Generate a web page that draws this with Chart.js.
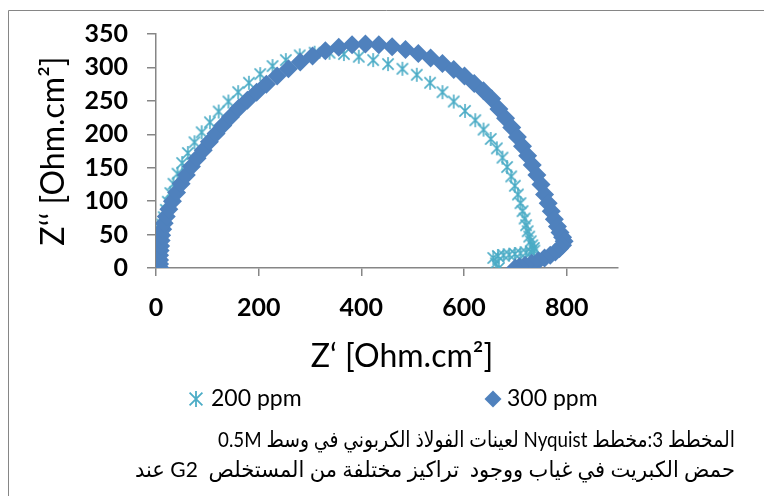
<!DOCTYPE html>
<html>
<head>
<meta charset="utf-8">
<script src="https://cdn.jsdelivr.net/npm/chart.js@4.4.0/dist/chart.umd.min.js"></script>
<style>
  html, body { margin: 0; padding: 0; background: #fff; }
</style>
</head>
<body>
<canvas id="nyquist" width="764" height="496"></canvas>
<script>
// Z' / Z'' readings (Ohm.cm2), high frequency first
var re200 = [4,4,5,5,6,7,8,10,12,15, 19,23,28,34,42,51,62,75,89,105,
  122,141,160,181,203,227,253,280,309,338, 366,395,423,452,480,508,534,558,580,602,
  622,638,652,664,675,684,692,699,705,710, 714,718,721,724,727,730,733,736,737,731,
  721,710,699,688,677,666,657,662,668];
var im200 = [0,7,14,21,29,37,46,55,65,76, 87,99,112,126,141,157,172,188,203,218,
  234,249,263,277,290,302,311,318,322,322, 320,316,311,305,298,289,277,263,249,235,
  221,207,193,179,165,151,137,123,110,97, 85,74,64,55,47,40,34,30,26,24,
  23,22,21,20,19,18,15,7,0];

var re300 = [8,7,7,7,8,9,10,11,13,16, 20,25,32,40,49,59,69,80,92,104,
  117,130,145,161,178,196,215,236,258,281, 305,330,356,382,408,434,460,486,511,535,
  558,580,601,620,638,654,668,681,693,704, 714,724,733,742,750,757,764,770,776,782,
  787,792,795,792,786,778,768,757,745,732, 719,708,700];
var im300 = [0,6,12,19,26,33,41,49,58,67, 77,88,100,113,126,139,152,164,176,189,
  201,213,226,239,251,263,275,287,298,308, 317,325,330,334,335,334,331,327,321,314,
  306,297,287,276,265,253,238,224,210,196, 182,168,154,139,125,110,97,85,73,62,
  53,46,40,34,29,24,19,15,11,7, 4,2,0];

var seriesNames = ['200 ppm', '300 ppm'];
var xTitle = 'Z\u2018 [Ohm.cm\u00B2]';
var yTitle = 'Z\u2018\u2018 [Ohm.cm\u00B2]';
var captionLines = [
  'المخطط 3:مخطط Nyquist لعينات الفولاذ الكربوني في وسط 0.5M',
  'حمض الكبريت في غياب ووجود  تراكيز مختلفة من المستخلص  G2 عند'
];

var AQUA = '#4BACC6', BLUE = '#4F81BD', AXIS = '#868686';

function toPoints(xs, ys) {
  return xs.map(function (x, i) { return {x: x, y: ys[i]}; });
}

// excel style "*" marker: an X with a vertical stroke
function makeAsterisk(size, color, lw) {
  var c = document.createElement('canvas');
  c.width = size; c.height = size;
  var g = c.getContext('2d');
  var m = size / 2, r = size / 2 - 1, d = r * 0.8;
  g.strokeStyle = color;
  g.lineWidth = lw;
  g.beginPath();
  g.moveTo(m - d, m - d); g.lineTo(m + d, m + d);
  g.moveTo(m + d, m - d); g.lineTo(m - d, m + d);
  g.moveTo(m, m - r); g.lineTo(m, m + r);
  g.stroke();
  return c;
}

var starPlot = makeAsterisk(16, AQUA, 1.6);
var starLegend = makeAsterisk(18, AQUA, 1.8);

// frame, x title, legend row and caption under the plot
var extras = {
  id: 'extras',
  beforeDraw: function (chart) {
    var ctx = chart.ctx;
    ctx.save();
    ctx.fillStyle = '#fff';
    ctx.fillRect(0, 0, chart.width, chart.height);
    ctx.restore();
  },
  afterDraw: function (chart) {
    var ctx = chart.ctx;
    ctx.save();
    ctx.strokeStyle = AXIS;
    ctx.lineWidth = 1;
    ctx.beginPath();
    ctx.moveTo(8.5, 496); ctx.lineTo(8.5, 10.5); ctx.lineTo(764, 10.5);
    ctx.stroke();

    ctx.fillStyle = '#000';
    ctx.textBaseline = 'middle';
    ctx.textAlign = 'center';
    ctx.font = '32px Lato';
    ctx.fillText(xTitle, 402, 357);

    // legend
    var ly = 399;
    ctx.drawImage(starLegend, 196 - 9, ly - 9);
    ctx.fillStyle = BLUE;
    ctx.beginPath();
    ctx.moveTo(493 - 8.5, ly); ctx.lineTo(493, ly - 8.5); ctx.lineTo(493 + 8.5, ly); ctx.lineTo(493, ly + 8.5);
    ctx.closePath();
    ctx.fill();
    ctx.fillStyle = '#000';
    ctx.font = '23px Lato';
    ctx.textAlign = 'left';
    ctx.fillText(seriesNames[0], 211, ly);
    ctx.fillText(seriesNames[1], 507, ly);

    // caption (right to left)
    ctx.direction = 'rtl';
    ctx.textAlign = 'right';
    ctx.font = '22px Lato, "DejaVu Sans"';
    ctx.fillText(captionLines[0], 735, 440, 517);
    ctx.fillText(captionLines[1], 735, 470, 600);
    ctx.restore();
  }
};

var tickFont = {family: 'Lato', size: 25, weight: 'bold'};
var titleFont = {family: 'Lato', size: 32};

new Chart(document.getElementById('nyquist'), {
  type: 'scatter',
  data: {
    datasets: [{
      label: seriesNames[0],
      data: toPoints(re200, im200),
      pointStyle: starPlot,
      pointRadius: 8,
      borderColor: AQUA,
      backgroundColor: AQUA,
      showLine: false,
      order: 2
    }, {
      label: seriesNames[1],
      data: toPoints(re300, im300),
      pointStyle: 'rectRot',
      pointRadius: 9.5,
      pointBorderWidth: 0,
      borderColor: BLUE,
      backgroundColor: BLUE,
      showLine: false,
      order: 1
    }]
  },
  options: {
    responsive: false,
    animation: false,
    layout: {padding: {left: 0, top: 28, right: 146, bottom: 122}},
    plugins: {
      legend: {display: false},
      tooltip: {enabled: false}
    },
    scales: {
      x: {
        type: 'linear',
        min: 0,
        max: 900,
        afterFit: function (s) { s.height = 106; },
        ticks: {stepSize: 200, includeBounds: false, color: '#000', font: tickFont, padding: 17, maxRotation: 0},
        grid: {drawOnChartArea: false, drawTicks: true, tickLength: 8, color: AXIS, lineWidth: 1.5},
        border: {color: AXIS, width: 1.5},
        title: {display: false}
      },
      y: {
        type: 'linear',
        min: 0,
        max: 350,
        afterFit: function (s) { s.width = 156; },
        ticks: {stepSize: 50, color: '#000', font: tickFont, padding: 19},
        grid: {drawOnChartArea: false, drawTicks: true, tickLength: 9, color: AXIS, lineWidth: 1.5},
        border: {color: AXIS, width: 1.5},
        title: {display: true, text: yTitle, color: '#000', font: titleFont, padding: {top: 34, bottom: 0}}
      }
    }
  },
  plugins: [extras]
});
</script>
</body>
</html>
